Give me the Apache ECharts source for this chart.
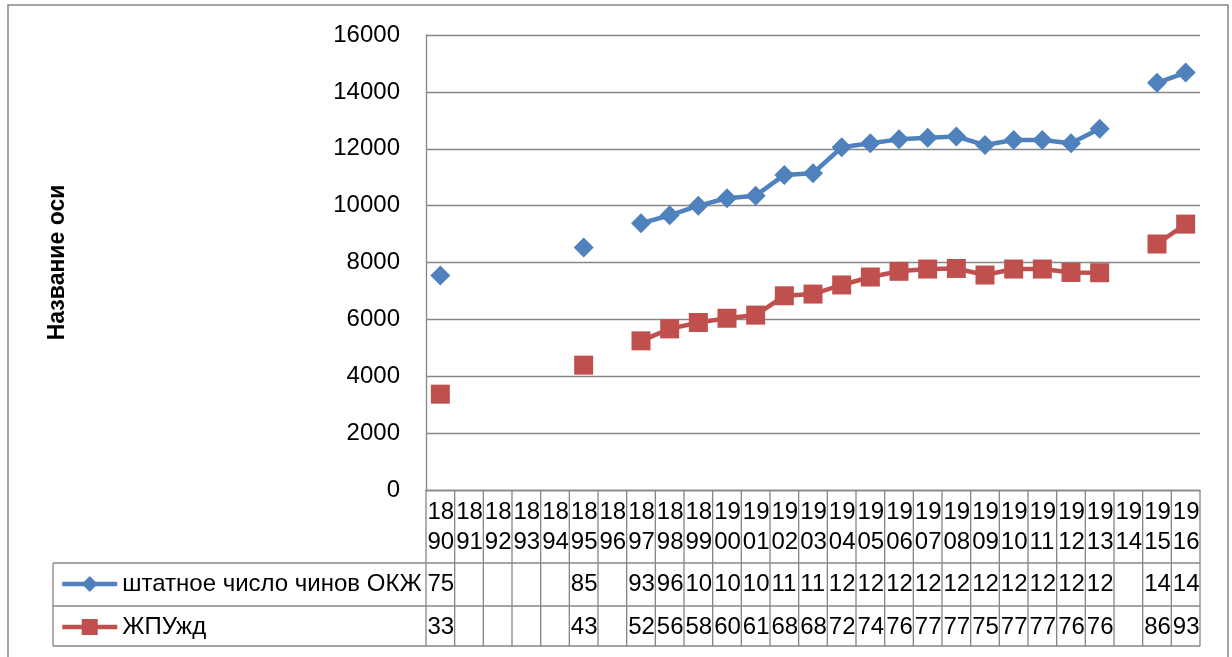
<!DOCTYPE html>
<html>
<head>
<meta charset="utf-8">
<script src="https://cdn.jsdelivr.net/npm/echarts@6/dist/echarts.min.js"></script>
<style>
html,body{margin:0;padding:0;background:#fff;}
#chart{width:1232px;height:657px;}
</style>
</head>
<body>
<div id="chart"></div>
<script>
const years = [1890,1891,1892,1893,1894,1895,1896,1897,1898,1899,1900,1901,1902,1903,1904,1905,1906,1907,1908,1909,1910,1911,1912,1913,1914,1915,1916];
const seriesNames = ['штатное число чинов ОКЖ', 'ЖПУжд'];
const okzh = [7545,null,null,null,null,8530,null,9380,9660,10000,10260,10350,11080,11140,12050,12190,12330,12390,12430,12130,12310,12310,12190,12700,null,14320,14680];
const zhpu = [3370,null,null,null,null,4390,null,5245,5665,5890,6040,6150,6830,6890,7210,7490,7690,7770,7790,7560,7770,7770,7650,7640,null,8650,9350];
const yTicks = {min:0, max:16000, interval:2000};
const axisTitle = 'Название оси';

const FONT = '"Liberation Sans", Arial, sans-serif';
const BLUE = '#4F81BD', RED = '#C0504D', GRID = '#868686', TXT = '#000';

const chart = echarts.init(document.getElementById('chart'), null, {renderer:'canvas'});
const option = {
  animation:false,
  backgroundColor:'#fff',
  grid:{left:426, right:32, top:35, bottom:167, containLabel:false},
  xAxis:{type:'category', data:years.map(String), boundaryGap:true,
    axisLine:{show:true, lineStyle:{color:GRID, width:1.3}},
    axisTick:{show:false}, axisLabel:{show:false}, splitLine:{show:false}},
  yAxis:{type:'value', min:yTicks.min, max:yTicks.max, interval:yTicks.interval,
    name:axisTitle, nameLocation:'middle', nameGap:357, nameRotate:90,
    nameTextStyle:{fontFamily:FONT, fontSize:23, fontWeight:'bold', color:TXT},
    axisLine:{show:true, lineStyle:{color:GRID, width:1.3}},
    axisTick:{show:false},
    axisLabel:{fontFamily:FONT, fontSize:24, color:TXT, margin:26, formatter:(v)=>String(v)},
    splitLine:{show:true, lineStyle:{color:GRID, width:1.3}}},
  legend:{orient:'vertical', left:55, top:567, itemWidth:55, itemHeight:20, itemGap:19,
    lineStyle:{width:4.5},
    textStyle:{fontFamily:FONT, fontSize:24, color:TXT, lineHeight:20}, selectedMode:false},
  series:[
    {name:seriesNames[0], type:'line', data:okzh, connectNulls:false, showAllSymbol:true,
     symbol:'diamond', symbolSize:20, lineStyle:{color:BLUE, width:4.5}, itemStyle:{color:BLUE}},
    {name:seriesNames[1], type:'line', data:zhpu, connectNulls:false, showAllSymbol:true,
     symbol:'rect', symbolSize:19, lineStyle:{color:RED, width:4.5}, itemStyle:{color:RED}}
  ]
};
chart.setOption(option);

function buildTable(){
  const c0 = chart.convertToPixel({xAxisIndex:0}, 0);
  const c1 = chart.convertToPixel({xAxisIndex:0}, 1);
  const w = c1 - c0;
  const left = c0 - w/2;
  const right = chart.convertToPixel({xAxisIndex:0}, years.length-1) + w/2;
  const yb = chart.convertToPixel({yAxisIndex:0}, 0);
  const r1 = yb + 73, r2 = yb + 116, r3 = yb + 156;
  const tableLeft = 53;
  const ls = {stroke:GRID, lineWidth:1.3};
  const els = [];
  const line = (x1,y1,x2,y2)=>els.push({type:'line', silent:true, shape:{x1,y1,x2,y2}, style:ls, z:1});
  for(let i=0;i<=years.length;i++){ const x = left + i*w; line(x, yb, x, r3); }
  line(tableLeft, r1, tableLeft, r3);
  line(tableLeft, r1, right, r1);
  line(tableLeft, r2, right, r2);
  line(tableLeft, r3, right, r3);
  const txt = (s, x, y)=>els.push({type:'text', silent:true, z:5, style:{text:s, x, y, font:'24px '+FONT, fill:TXT,
      align:'left', verticalAlign:'middle', textAlign:'left', textVerticalAlign:'middle'}});
  years.forEach((yr,i)=>{
    const x = left + i*w + 1.5;
    const s = String(yr);
    txt(s.slice(0,2), x, yb+22);
    txt(s.slice(2), x, yb+52);
    if(okzh[i]!=null) txt(String(okzh[i]).slice(0,2), x, yb+94);
    if(zhpu[i]!=null) txt(String(zhpu[i]).slice(0,2), x, yb+137);
  });
  els.push({type:'rect', silent:true, shape:{x:8, y:5, width:1220, height:700}, style:{fill:null, stroke:GRID, lineWidth:1.5}, z:0});
  chart.setOption({graphic:{elements:els}});
}
buildTable();
</script>
</body>
</html>
